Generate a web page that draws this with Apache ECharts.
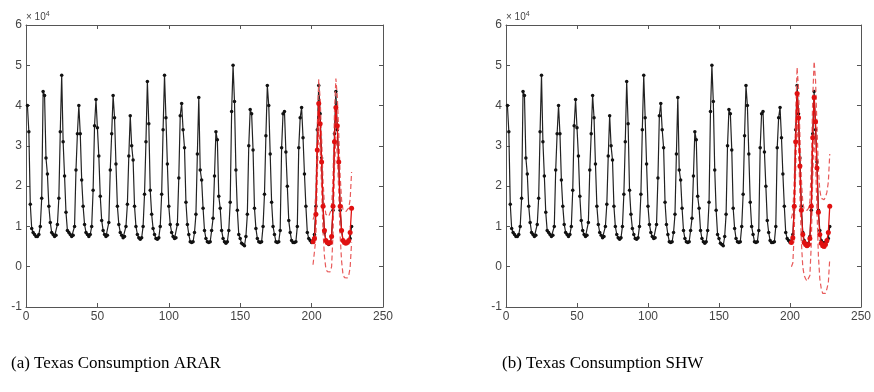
<!DOCTYPE html>
<html><head><meta charset="utf-8">
<script src="https://cdn.jsdelivr.net/npm/echarts@6/dist/echarts.min.js"></script>
<style>html,body{margin:0;padding:0;background:#fff;} #c{width:874px;height:392px;}</style>
</head><body><div id="c"></div>
<script>
// Monthly Texas consumption (units of 10^4), x = 1..228
const actual = [
  4.00, 3.35, 1.55, 0.95, 0.85, 0.80, 0.75, 0.75, 0.80, 1.00, 1.70, 4.35,
  4.25, 2.70, 2.30, 1.50, 1.10, 0.85, 0.80, 0.75, 0.78, 1.05, 1.70, 3.35,
  4.75, 3.10, 2.25, 1.35, 0.90, 0.85, 0.80, 0.75, 0.78, 1.00, 2.40, 3.30,
  4.00, 3.30, 2.15, 1.50, 1.05, 0.85, 0.80, 0.75, 0.80, 1.00, 1.90, 3.50,
  4.15, 3.45, 2.75, 1.75, 1.15, 0.90, 0.80, 0.75, 0.78, 1.10, 2.40, 3.30,
  4.25, 3.70, 2.55, 1.50, 1.05, 0.85, 0.78, 0.72, 0.75, 1.00, 1.55, 2.75,
  3.75, 3.00, 2.65, 1.50, 1.00, 0.80, 0.72, 0.68, 0.72, 1.00, 1.80, 3.10,
  4.60, 3.55, 1.90, 1.30, 0.95, 0.80, 0.70, 0.68, 0.72, 1.00, 1.80, 3.40,
  4.75, 3.70, 2.55, 1.50, 1.05, 0.85, 0.75, 0.70, 0.72, 1.05, 2.20, 3.75,
  4.05, 3.40, 2.95, 1.60, 1.05, 0.80, 0.62, 0.60, 0.62, 0.85, 1.30, 2.80,
  4.20, 2.40, 2.15, 1.45, 0.90, 0.70, 0.62, 0.60, 0.62, 0.90, 1.20, 2.25,
  3.35, 3.15, 1.75, 1.45, 0.90, 0.70, 0.62, 0.58, 0.62, 0.90, 1.60, 3.85,
  5.00, 4.10, 2.40, 1.40, 0.80, 0.70, 0.58, 0.55, 0.52, 0.75, 1.30, 3.00,
  3.90, 3.80, 2.90, 1.45, 0.95, 0.70, 0.62, 0.60, 0.62, 1.00, 1.80, 3.25,
  4.50, 4.00, 2.80, 1.60, 1.00, 0.80, 0.62, 0.60, 0.62, 0.90, 2.95, 3.80,
  3.85, 2.85, 2.00, 1.15, 0.85, 0.65, 0.60, 0.60, 0.62, 1.00, 2.95, 3.70,
  3.95, 3.20, 2.30, 1.50, 0.85, 0.70, 0.65, 0.60, 0.62, 0.80, 1.50, 3.40,
  4.50, 3.80, 2.70, 1.50, 0.85, 0.65, 0.58, 0.55, 0.58, 0.75, 1.40, 3.30,
  4.35, 3.40, 2.60, 1.40, 0.90, 0.65, 0.60, 0.58, 0.60, 0.62, 0.70, 1.00
];
const forecastStart = 201;
const ararForecast = [0.62, 0.70, 1.30, 2.90, 4.05, 3.55, 2.60, 1.50, 0.90, 0.65, 0.60, 0.58, 0.60, 0.75,
  1.50, 3.10, 3.95, 3.50, 2.60, 1.50, 0.90, 0.65, 0.60, 0.58, 0.60, 0.65, 0.85, 1.45];
const ararUpper = [1.17, 1.27, 1.88, 3.49, 4.65, 4.16, 3.22, 2.13, 1.54, 1.30, 1.26, 1.25, 1.28, 1.44,
  2.20, 3.81, 4.67, 4.23, 3.34, 2.25, 1.66, 1.42, 1.38, 1.37, 1.40, 1.46, 1.67, 2.35];
const ararLower = [0.05, 0.04, 0.70, 2.31, 3.45, 2.94, 1.98, 0.87, 0.26, -0.05, -0.12, -0.15, -0.13, 0.00,
  0.80, 2.39, 3.23, 2.77, 1.86, 0.75, 0.14, -0.20, -0.27, -0.30, -0.28, -0.22, -0.02, 0.60];
const shwForecast = [0.60, 0.72, 1.50, 3.10, 4.30, 3.70, 2.50, 1.40, 0.80, 0.60, 0.55, 0.52, 0.55, 0.70,
  1.50, 3.20, 4.20, 3.60, 2.45, 1.35, 0.80, 0.58, 0.52, 0.50, 0.55, 0.65, 0.85, 1.50];
const shwUpper = [1.20, 1.35, 2.15, 3.78, 4.95, 4.42, 3.25, 2.18, 1.60, 1.42, 1.40, 1.40, 1.45, 1.62,
  2.45, 4.18, 5.10, 4.62, 3.50, 2.42, 1.90, 1.70, 1.66, 1.66, 1.73, 1.85, 2.10, 2.80];
const shwLower = [0.00, 0.09, 0.85, 2.42, 3.65, 2.98, 1.75, 0.62, 0.00, -0.22, -0.30, -0.36, -0.35, -0.22,
  0.55, 2.22, 3.30, 2.58, 1.40, 0.28, -0.30, -0.54, -0.66, -0.70, -0.66, -0.55, -0.40, 0.20];
const xTicks = [0, 50, 100, 150, 200, 250];
const yTicks = [-1, 0, 1, 2, 3, 4, 5, 6];
const captions = ['(a) Texas Consumption ARAR', '(b) Texas Consumption SHW'];

const toPairs = (arr, start) => arr.map((v, i) => [start + i, v]);
const axisColor = '#555';
const labelColor = '#444';

const grids = [
  { left: 26, top: 25, width: 357, height: 282 },
  { left: 506, top: 25, width: 359, height: 282 }
];

const xAxes = [], yAxes = [], series = [];
const panels = [
  { f: ararForecast, u: ararUpper, l: ararLower },
  { f: shwForecast, u: shwUpper, l: shwLower }
];
panels.forEach((p, g) => {
  const common = {
    type: 'value', gridIndex: g,
    axisLine: { show: true, onZero: false, lineStyle: { color: axisColor, width: 1 } },
    axisTick: { show: true, inside: true, length: 4, lineStyle: { color: axisColor } },
    splitLine: { show: false }
  };
  xAxes.push(Object.assign({}, common, {
    position: 'bottom', min: xTicks[0], max: xTicks[xTicks.length - 1], interval: 50,
    axisLabel: { color: labelColor, fontSize: 12, margin: 4, fontFamily: 'Liberation Sans' }
  }));
  xAxes.push(Object.assign({}, common, {
    position: 'top', min: xTicks[0], max: xTicks[xTicks.length - 1], interval: 50,
    axisLabel: { show: false }
  }));
  yAxes.push(Object.assign({}, common, {
    position: 'left', min: yTicks[0], max: yTicks[yTicks.length - 1], interval: 1,
    axisLabel: { color: labelColor, fontSize: 12, margin: 4, fontFamily: 'Liberation Sans' },
    name: '{a|× 10}{b|4}', nameLocation: 'end', nameGap: 1,
    nameTextStyle: {
      align: 'left', verticalAlign: 'bottom', color: labelColor,
      rich: { a: { fontSize: 10, color: labelColor, fontFamily: 'Liberation Sans' },
              b: { fontSize: 7, color: labelColor, verticalAlign: 'top', padding: [0, 0, 6, 0], fontFamily: 'Liberation Sans' } }
    }
  }));
  yAxes.push(Object.assign({}, common, {
    position: 'right', min: yTicks[0], max: yTicks[yTicks.length - 1], interval: 1,
    axisLabel: { show: false }
  }));
  const xi = g * 2, yi = g * 2;
  series.push({
    type: 'line', xAxisIndex: xi, yAxisIndex: yi, data: toPairs(actual, 1),
    symbol: 'circle', symbolSize: 3.5, showSymbol: true,
    lineStyle: { color: '#222', width: 1.2 }, itemStyle: { color: '#111' }, z: 2
  });
  series.push({
    type: 'line', xAxisIndex: xi, yAxisIndex: yi, data: toPairs(p.u, forecastStart),
    symbol: 'none', lineStyle: { color: '#e85a5a', width: 1.2, type: [5, 3] }, z: 3
  });
  series.push({
    type: 'line', xAxisIndex: xi, yAxisIndex: yi, data: toPairs(p.l, forecastStart),
    symbol: 'none', lineStyle: { color: '#e85a5a', width: 1.2, type: [5, 3] }, z: 3
  });
  series.push({
    type: 'line', xAxisIndex: xi, yAxisIndex: yi, data: toPairs(p.f, forecastStart),
    symbol: 'circle', symbolSize: 5, showSymbol: true,
    lineStyle: { color: '#e01010', width: 1.3 }, itemStyle: { color: '#e01010' }, z: 4
  });
});

const chart = echarts.init(document.getElementById('c'), null, { renderer: 'canvas' });
chart.setOption({
  animation: false,
  backgroundColor: '#fff',
  grid: grids,
  xAxis: xAxes,
  yAxis: yAxes,
  title: captions.map((t, i) => ({
    text: t, left: i === 0 ? 6 : 497, top: 350,
    textStyle: { fontFamily: 'Liberation Serif', fontSize: 17, fontWeight: 'normal', color: '#000' }
  })),
  series: series
});
</script>
</body></html>
